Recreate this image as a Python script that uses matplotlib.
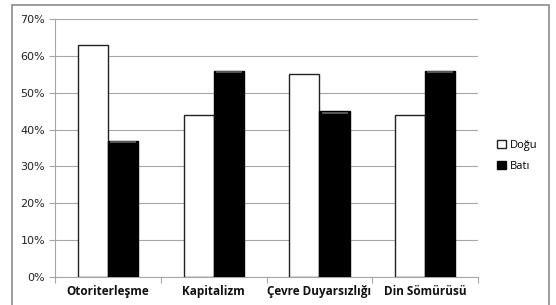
import numpy as np
import matplotlib.pyplot as plt
from matplotlib.patches import Rectangle

# Veriler
categories = ['Otoriterleşme', 'Kapitalizm', 'Çevre Duyarsızlığı', 'Din Sömürüsü']
dogu = [63, 44, 55, 44]
bati = [37, 56, 45, 56]

fig = plt.figure(figsize=(5.56, 3.05), dpi=100)
ax = fig.add_axes([0.0989, 0.0918, 0.7611, 0.8459])

# Dış çerçeve
fig.patches.append(Rectangle((0.022, -0.01), 0.965, 0.994, transform=fig.transFigure,
                             fill=False, edgecolor='#8c8c8c', linewidth=1.2))

x = np.arange(len(categories))
w = 0.285
ax.bar(x - w / 2, dogu, w, color='white', edgecolor='#222222', linewidth=1.0,
       label='Doğu', zorder=3)
ax.bar(x + w / 2, bati, w, color='black', edgecolor='black', linewidth=1.0,
       label='Batı', zorder=3)

# Siyah çubukların üstündeki parlaklık
for xi, v in zip(x, bati):
    ax.plot([xi + 0.02, xi + w - 0.02], [v - 0.5, v - 0.5], color='#666666',
            linewidth=1.2, zorder=4, solid_capstyle='butt')

ax.set_ylim(0, 70)
ax.set_xlim(-0.5, len(categories) - 0.5)
ax.set_yticks(range(0, 71, 10))
ax.set_yticklabels([f'{v}%' for v in range(0, 71, 10)], fontsize=8,
                   family='DejaVu Sans', color='#222222')
ax.yaxis.grid(True, color='#a6a6a6', linewidth=0.8, zorder=0)
ax.set_axisbelow(True)

ax.set_xticks(np.arange(-0.5, len(categories), 1.0))
ax.set_xticklabels([])
ax.set_xticks(x, minor=True)
ax.set_xticklabels(categories, minor=True, fontsize=8.5, fontweight='bold',
                   family='Open Sans', color='#111111')
ax.tick_params(axis='x', which='minor', length=0, pad=6)
ax.tick_params(axis='x', which='major', length=4, color='#a6a6a6', direction='out')
ax.tick_params(axis='y', length=4, color='#a6a6a6', direction='out', pad=3)

for s in ['top', 'right']:
    ax.spines[s].set_visible(False)
ax.spines['left'].set_color('#a6a6a6')
ax.spines['bottom'].set_color('#a6a6a6')

ax.legend(loc='center left', bbox_to_anchor=(1.045, 0.47), frameon=False,
          borderpad=0, borderaxespad=0, handlelength=0.8, handleheight=0.8,
          handletextpad=0.3, labelspacing=0.9,
          prop={'family': 'Open Sans', 'size': 8})

fig.savefig('out.png', dpi=100)
